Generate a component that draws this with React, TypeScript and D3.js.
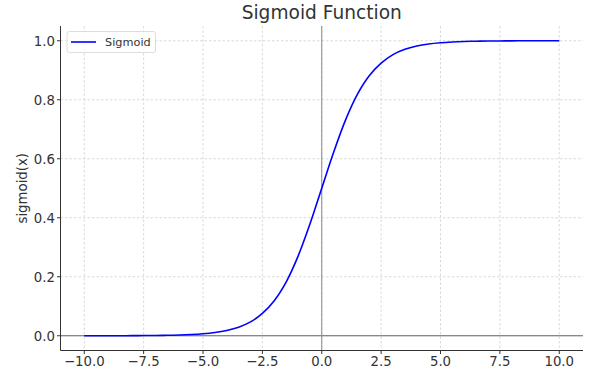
import React from "react";
import * as d3 from "d3";

const xValues = [-10, -9.5, -9, -8.5, -8, -7.5, -7, -6.5, -6, -5.5, -5, -4.5, -4, -3.5, -3, -2.5, -2, -1.5, -1, -0.5, 0, 0.5, 1, 1.5, 2, 2.5, 3, 3.5, 4, 4.5, 5, 5.5, 6, 6.5, 7, 7.5, 8, 8.5, 9, 9.5, 10];
const sigmoidValues = [0.0000, 0.0001, 0.0001, 0.0002, 0.0003, 0.0006, 0.0009, 0.0015, 0.0025, 0.0041, 0.0067, 0.011, 0.018, 0.029, 0.047, 0.076, 0.119, 0.182, 0.269, 0.378, 0.5, 0.622, 0.731, 0.818, 0.881, 0.924, 0.953, 0.971, 0.982, 0.989, 0.9933, 0.9959, 0.9975, 0.9985, 0.9991, 0.9994, 0.9997, 0.9998, 0.9999, 0.9999, 1.0];
const xTicks = [-10, -7.5, -5, -2.5, 0, 2.5, 5, 7.5, 10];
const yTicks = [0, 0.2, 0.4, 0.6, 0.8, 1.0];
const seriesName = "Sigmoid";
const title = "Sigmoid Function";
const yLabel = "sigmoid(x)";

const W = 602, H = 376;
const L = 60.5, R = 583, T = 26, B = 350.5;

export default function App() {
  const x = d3.scaleLinear().domain([-11, 11]).range([L, R]);
  const y = d3.scaleLinear().domain([-0.05, 1.05]).range([B, T]);
  const data = xValues.map((v, i) => [v, sigmoidValues[i]] as [number, number]);
  const line = d3.line<[number, number]>().x(d => x(d[0])).y(d => y(d[1])).curve(d3.curveCatmullRom.alpha(0.5));
  const font = "DejaVu Sans, sans-serif";
  return (
    <svg width={W} height={H} style={{ position: "absolute", left: 0, top: 0 }} fontFamily={font}>
      <rect width={W} height={H} fill="#fff" />
      {xTicks.map(t => (
        <line key={"gx" + t} x1={x(t)} x2={x(t)} y1={T} y2={B} stroke="#d0d0d0" strokeWidth={0.8} strokeDasharray="2.5,2" />
      ))}
      {yTicks.map(t => (
        <line key={"gy" + t} x1={L} x2={R} y1={y(t)} y2={y(t)} stroke="#d0d0d0" strokeWidth={0.8} strokeDasharray="2.5,2" />
      ))}
      <line x1={L} x2={R} y1={y(0)} y2={y(0)} stroke="#666" strokeWidth={1} />
      <line x1={x(0)} x2={x(0)} y1={T} y2={B} stroke="#888" strokeWidth={1} />
      <path d={line(data) || ""} fill="none" stroke="#0000ff" strokeWidth={1.6} />
      <line x1={L} x2={L} y1={T} y2={B} stroke="#333" strokeWidth={1} />
      <line x1={L} x2={R} y1={B} y2={B} stroke="#333" strokeWidth={1} />
      {xTicks.map(t => (
        <g key={"tx" + t}>
          <line x1={x(t)} x2={x(t)} y1={B} y2={B + 3.5} stroke="#333" />
          <text x={x(t)} y={B + 15.8} textAnchor="middle" fontSize={13.3} fill="#333">{d3.format(".1f")(t).replace("-", "\u2212")}</text>
        </g>
      ))}
      {yTicks.map(t => (
        <g key={"ty" + t}>
          <line x1={L - 3.5} x2={L} y1={y(t)} y2={y(t)} stroke="#333" />
          <text x={L - 5.5} y={y(t) + 5} textAnchor="end" fontSize={13.3} fill="#333">{d3.format(".1f")(t)}</text>
        </g>
      ))}
      <text x={(L + R) / 2} y={18.5} textAnchor="middle" fontSize={18.6} fill="#333">{title}</text>
      <text transform={`translate(${26.5},${(T + B) / 2}) rotate(-90)`} textAnchor="middle" fontSize={13.3} fill="#333">{yLabel}</text>
      <g>
        <rect x={67} y={31.5} width={88.5} height={21} rx={2.5} fill="#fff" fillOpacity={0.8} stroke="#ddd" />
        <line x1={71} x2={96} y1={42} y2={42} stroke="#0000ff" strokeWidth={1.6} />
        <text x={105} y={45.8} fontSize={11.3} fill="#333">{seriesName}</text>
      </g>
    </svg>
  );
}
